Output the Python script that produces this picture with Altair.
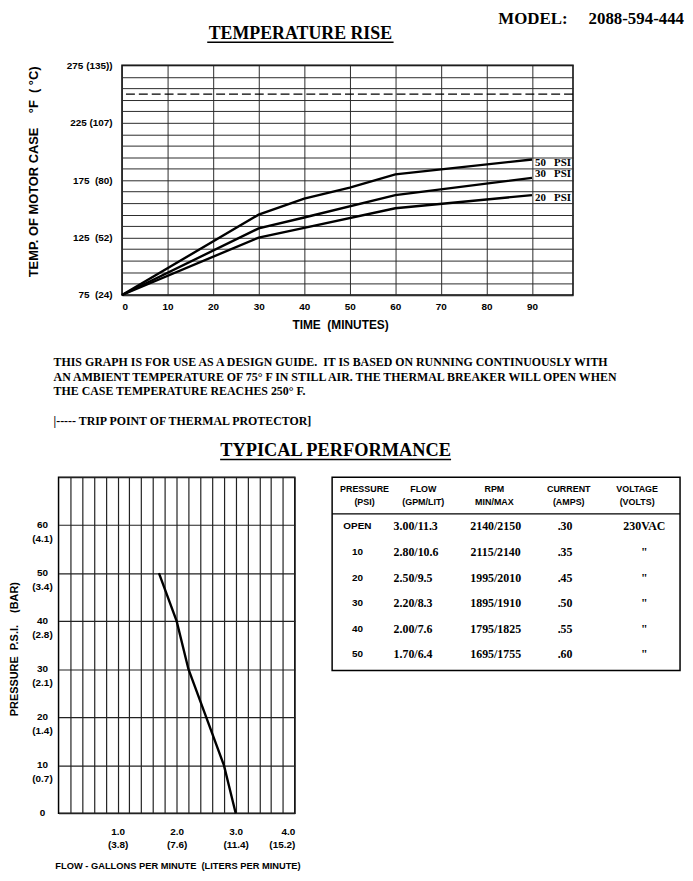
import altair as alt
import pandas as pd

SANS = "Liberation Sans"
SERIF = "Liberation Serif"
NB = "\u00a0"

# ---------------- data ----------------
model_text = "MODEL:" + NB * 5 + "2088-594-444"
title_top = "TEMPERATURE RISE"
title_bottom = "TYPICAL PERFORMANCE"

# temperature rise curves (minutes, deg F)
time_50 = [0, 30, 40, 50, 60, 90]
temp_50 = [75, 145, 159, 168.5, 180, 193]
time_30 = [0, 30, 40, 60, 90]
temp_30 = [75, 133, 142.5, 162, 177]
time_20 = [0, 30, 40, 60, 90]
temp_20 = [75, 125, 133.5, 150.5, 162]
series_labels = ["50" + NB * 3 + "PSI", "30" + NB * 3 + "PSI", "20" + NB * 3 + "PSI"]
trip_point_f = [250]

temp_label_values = [75, 125, 175, 225, 275]
temp_label_texts = ["75" + NB * 2 + "(24)", "125" + NB * 2 + "(52)", "175" + NB * 2 + "(80)",
                    "225 (107)", "275 (135))"]
time_label_values = [0, 10, 20, 30, 40, 50, 60, 70, 80, 90]

notes = [
    "THIS GRAPH IS FOR USE AS A DESIGN GUIDE." + NB + " IT IS BASED ON RUNNING CONTINUOUSLY WITH",
    "AN AMBIENT TEMPERATURE OF 75° F IN STILL AIR. THE THERMAL BREAKER WILL OPEN WHEN",
    "THE CASE TEMPERATURE REACHES 250° F.",
    "|----- TRIP POINT OF THERMAL PROTECTOR]",
]

# performance curve
flow_gpm = [3.00, 2.80, 2.50, 2.20, 2.00, 1.70]
pressure_psi = [0, 10, 20, 30, 40, 50]
psi_label_values = [0, 10, 20, 30, 40, 50, 60]
bar_label_texts = ["", "(0.7)", "(1.4)", "(2.1)", "(2.8)", "(3.4)", "(4.1)"]
gpm_label_values = [1, 2, 3, 4]
gpm_label_texts = ["1.0", "2.0", "3.0", "4.0"]
lpm_label_texts = ["(3.8)", "(7.6)", "(11.4)", "(15.2)"]

# table
tbl_headers_1 = ["PRESSURE", "FLOW", "RPM", "CURRENT", "VOLTAGE"]
tbl_headers_2 = ["(PSI)", "(GPM/LIT)", "MIN/MAX", "(AMPS)", "(VOLTS)"]
tbl_pressure = ["OPEN", "10", "20", "30", "40", "50"]
tbl_flow = ["3.00/11.3", "2.80/10.6", "2.50/9.5", "2.20/8.3", "2.00/7.6", "1.70/6.4"]
tbl_rpm = ["2140/2150", "2115/2140", "1995/2010", "1895/1910", "1795/1825", "1695/1755"]
tbl_current = [".30", ".35", ".45", ".50", ".55", ".60"]
tbl_voltage = ["230VAC", '"', '"', '"', '"', '"']

# ---------------- helpers ----------------
def text_at(t, x, y, size, font=SERIF, align="left", baseline="middle"):
    return alt.Chart(pd.DataFrame({"t": [t]})).mark_text(
        align=align, baseline=baseline, font=font, fontSize=size,
        fontWeight="bold", color="black"
    ).encode(x=alt.value(x), y=alt.value(y), text="t:N")


def hline(x1, x2, y, w=1.5, color="black"):
    return alt.Chart(pd.DataFrame({"a": [0]})).mark_rule(color=color, strokeWidth=w).encode(
        x=alt.value(x1), x2=alt.value(x2), y=alt.value(y)
    )


def ternary(values, texts, default="''"):
    expr = default
    for v, t in reversed(list(zip(values, texts))):
        expr = f"datum.value == {v} ? {t} : ({expr})"
    return expr


# ---------------- top chart ----------------
W1, H1 = 455, 231.7
x_top = alt.X(
    "time:Q",
    scale=alt.Scale(domain=[0, 99], nice=False, zero=False),
    axis=alt.Axis(
        values=time_label_values, grid=True, gridColor="#2a2a2a", gridWidth=1,
        ticks=False, domain=False, labelFont=SANS, labelFontWeight="bold",
        labelFontSize=10, labelColor="black", labelPadding=7,
        title="TIME" + NB * 2 + "(MINUTES)", titleFont=SANS, titleFontWeight="bold",
        titleFontSize=12, titleColor="black", titleX=220, titleY=30,
        titleBaseline="middle", titleAlign="center",
    ),
)
y_top = alt.Y(
    "temp:Q",
    scale=alt.Scale(domain=[75, 275], nice=False, zero=False),
    axis=alt.Axis(
        values=list(range(75, 276, 10)), grid=True, gridColor="#2a2a2a", gridWidth=1,
        ticks=False, domain=False, labelFont=SANS, labelFontWeight="bold",
        labelFontSize=10, labelColor="black", labelPadding=10,
        labelExpr=ternary(temp_label_values, [f"'{t}'" for t in temp_label_texts]),
        title="TEMP. OF MOTOR CASE" + NB * 4 + "°F" + NB * 2 + "( °C)", titleFont=SANS,
        titleFontWeight="bold", titleFontSize=13, titleColor="black",
        titleX=-89, titleY=107, titleBaseline="middle", titleAlign="center",
    ),
)

rows = []
for name, ts, vs in [(series_labels[0], time_50, temp_50), (series_labels[1], time_30, temp_30),
                     (series_labels[2], time_20, temp_20)]:
    for t, v in zip(ts, vs):
        rows.append({"series": name, "time": t, "temp": v})
df_curves = pd.DataFrame(rows)

curves = alt.Chart(df_curves).mark_line(color="black", strokeWidth=2.4).encode(
    x=x_top, y=y_top, detail="series:N"
)
trip = alt.Chart(pd.DataFrame({"temp": trip_point_f})).mark_rule(
    color="black", strokeWidth=1.3, strokeDash=[9, 4]
).encode(y=y_top)

label_layers = []
for name, ts, vs, dy in [(series_labels[0], time_50, temp_50, 3.4),
                         (series_labels[1], time_30, temp_30, -3.4),
                         (series_labels[2], time_20, temp_20, 2.7)]:
    d = pd.DataFrame({"time": [ts[-1]], "temp": [vs[-1]], "lab": [name]})
    label_layers.append(
        alt.Chart(d).mark_text(align="left", baseline="middle", dx=3, dy=dy, font=SERIF,
                               fontSize=11, fontWeight="bold", color="black")
        .encode(x=x_top, y=y_top, text="lab:N")
    )

annots = [
    hline(-112.5, -111.5, -54.8, 1, "transparent"),   # layout anchor (page top-left)
    text_at(model_text, 567, -55.2, 17, align="right", baseline="top"),
    text_at(title_top, 180, -32, 18, align="center"),
    hline(86, 274, -23.3, 1.4),
    text_at(notes[0], -69, 299.7, 12),
    text_at(notes[1], -69, 314.2, 12),
    text_at(notes[2], -69, 328.7, 12),
    text_at(notes[3], -69, 358.7, 12),
    text_at(title_bottom, 215.5, 387.7, 18.5, align="center"),
    hline(99, 332, 397.7, 1.6),
]

top_chart = alt.layer(curves, trip, *label_layers, *annots).properties(
    width=W1, height=H1, view=alt.ViewBackground(stroke="black", strokeWidth=1.5)
)

spacer = alt.Chart(pd.DataFrame({"s": [""]})).mark_text().encode(text="s:N").properties(
    width=26.3, height=H1
)

# ---------------- bottom chart ----------------
W2, H2 = 238.3, 339
x_bot = alt.X(
    "gpm:Q",
    scale=alt.Scale(domain=[0, 4], nice=False, zero=False),
    axis=alt.Axis(
        values=[0.2, 0.4, 0.6, 0.8, 1.0, 1.2, 1.4, 1.6, 1.8, 2.0, 2.2, 2.4, 2.6, 2.8,
                3.0, 3.2, 3.4, 3.6, 3.8, 4.0],
        grid=True, gridColor="#222", gridWidth=1.2, ticks=False, tickSize=0, domain=False,
        labelFont=SANS, labelFontWeight="bold", labelFontSize=10, labelColor="black",
        labelPadding=13, labelLineHeight=13.3, labelBaseline="top",
        labelExpr=ternary(gpm_label_values,
                          [f"['{a}','{b}']" for a, b in zip(gpm_label_texts, lpm_label_texts)]),
        title="FLOW - GALLONS PER MINUTE" + NB * 2 + "(LITERS PER MINUTE)", titleFont=SANS,
        titleFontWeight="bold", titleFontSize=9.4, titleColor="black",
        titleX=120, titleY=53, titleBaseline="middle", titleAlign="center",
    ),
)
psi_texts = []
for v, b in zip(psi_label_values, bar_label_texts):
    psi_texts.append(f"['{v}','{b}']" if b else f"'{v}'")
y_bot = alt.Y(
    "psi:Q",
    scale=alt.Scale(domain=[0, 70], nice=False, zero=False),
    axis=alt.Axis(
        values=[0, 10, 20, 30, 40, 50, 60, 70], grid=True, gridColor="#222", gridWidth=1.2,
        ticks=False, tickSize=0, domain=False, labelFont=SANS, labelFontWeight="bold",
        labelFontSize=10, labelColor="black", labelPadding=16.7, labelAlign="center",
        labelBaseline="top", labelOffset=-6, labelLineHeight=14,
        labelExpr=ternary(psi_label_values, psi_texts),
        title="PRESSURE" + NB * 2 + "P.S.I." + NB * 4 + "(BAR)", titleFont=SANS,
        titleFontWeight="bold", titleFontSize=11, titleColor="black",
        titleX=-44.2, titleY=173, titleBaseline="middle", titleAlign="center",
    ),
)
df_perf = pd.DataFrame({"gpm": flow_gpm, "psi": pressure_psi})
perf_line = alt.Chart(df_perf).mark_line(color="black", strokeWidth=2.4).encode(
    x=x_bot, y=y_bot
)
bottom_chart = alt.layer(
    perf_line,
    hline(-49.2, -48.2, 100, 1, "transparent"),   # layout anchor (page left)
).properties(width=W2, height=H2, view=alt.ViewBackground(stroke="black", strokeWidth=1.5))

# ---------------- table ----------------
W3, H3 = 351, 195
row_y = alt.Y("row:N", scale=alt.Scale(domain=tbl_pressure, range=[49.7, 178.7], padding=0),
              axis=None)
header_x = [32.7, 92, 163.7, 238.7, 307.7]
col_specs = [
    (tbl_pressure, 25.5, "center", SANS, 10),
    (tbl_flow, 62, "left", SERIF, 12),
    (tbl_rpm, 165, "center", SERIF, 12),
    (tbl_current, 235, "center", SERIF, 12),
    (tbl_voltage, 315, "center", SERIF, 12),
]
tbl_layers = []
for vals, x, align, font, size in col_specs:
    d = pd.DataFrame({"row": tbl_pressure, "val": vals})
    tbl_layers.append(
        alt.Chart(d).mark_text(align=align, baseline="middle", font=font, fontSize=size,
                               fontWeight="bold", color="black")
        .encode(x=alt.value(x), y=row_y, text="val:N")
    )
for h1, h2, x in zip(tbl_headers_1, tbl_headers_2, header_x):
    tbl_layers.append(text_at(h1, x, 12, 9, font=SANS, align="center"))
    tbl_layers.append(text_at(h2, x, 25, 9, font=SANS, align="center"))
tbl_layers.append(hline(0, W3, 37, 1.3))
table_chart = alt.layer(*tbl_layers).properties(
    width=W3, height=H3, view=alt.ViewBackground(stroke="black", strokeWidth=1.5)
)

top_row = alt.hconcat(spacer, top_chart, spacing=37, bounds="flush")
bottom_row = alt.hconcat(bottom_chart, table_chart, spacing=37, bounds="flush")

chart = alt.vconcat(top_row, bottom_row, spacing=14.5).properties(
    padding={"top": -3, "left": 0, "right": 0, "bottom": 0}
).configure_view(stroke="transparent")

chart.save("out.html", embed_options={"renderer": "svg", "actions": False})
